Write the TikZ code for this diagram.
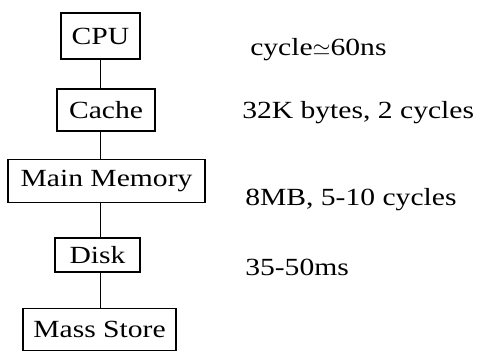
\documentclass[tikz,border=0pt]{standalone}
\usepackage{fontspec}
\setmainfont{Liberation Serif}[FakeStretch=1.2]
\tikzset{
  unit/.style={draw, line width=1.1pt, inner sep=0pt, font=\fontsize{18.5}{21}\selectfont},
  spec/.style={anchor=base west, inner sep=0.75pt, font=\fontsize{18.5}{21}\selectfont},
  link/.style={line width=1.1pt}
}
\begin{document}
\begin{tikzpicture}[x=0.75pt,y=0.75pt,yscale=-1,xscale=1]
        \useasboundingbox (0,0) rectangle (489,351);

        %Shape: Boxes of the hierarchy
        \node [unit, minimum width=59pt, minimum height=34.5pt] (cpu) at (100.5,36) {CPU};
        \node [unit, minimum width=73.5pt, minimum height=31.5pt] (cache) at (106,110) {Cache};
        \node [unit, minimum width=148pt, minimum height=32pt] (mainmem) at (106.5,181) {Main Memory};
        \node [unit, minimum width=64pt, minimum height=25.5pt] (disk) at (97.5,255) {Disk};
        \node [unit, minimum width=115pt, minimum height=31.5pt] (mass) at (99.5,329.5) {Mass Store};

        %Straight Lines between the boxes
        \draw [link] (cpu.south) -- (cpu.south |- cache.north) ;
        \draw [link] (cpu.south |- cache.south) -- (cpu.south |- mainmem.north) ;
        \draw [link] (cpu.south |- mainmem.south) -- (cpu.south |- disk.north) ;
        \draw [link] (cpu.south |- disk.south) -- (cpu.south |- mass.north) ;

        % Text Node
        \node [spec] (cputime) at (249,55) {cycle$\simeq$60ns};
        % Text Node
        \node [spec] (cachesize) at (241,118) {32K bytes, 2 cycles};
        % Text Node
        \node [spec] (memsize) at (244,205) {8MB, 5-10 cycles};
        % Text Node
        \node [spec] (disktime) at (244,275) {35-50ms};
    \end{tikzpicture}
\end{document}
